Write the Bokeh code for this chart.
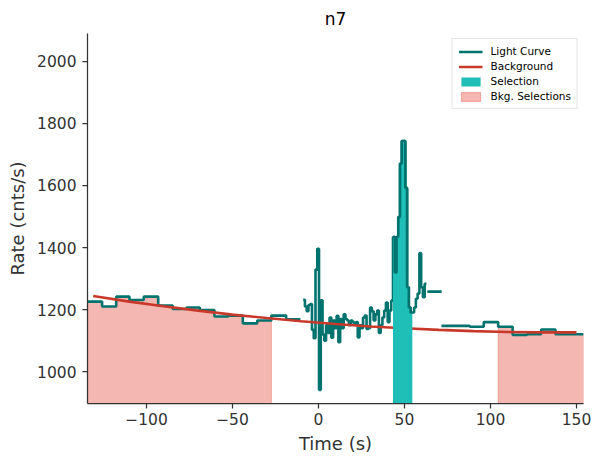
import numpy as np
from bokeh.plotting import figure
from bokeh.models import Range1d, Legend, LegendItem, FixedTicker
from bokeh.embed import file_html
from bokeh.resources import INLINE

# ---------------- data ----------------
title_text = "n7"
x_label = "Time (s)"
y_label = "Rate (cnts/s)"

# coarse bins before the trigger
left_edges = [-134.2, -125.8, -117.6, -109.9, -101.6, -93.2, -84.7, -76.7, -69.0,
              -60.5, -52.5, -44.0, -35.6, -27.4, -18.8, -10.5]
left_rates = [1226, 1210, 1242, 1231, 1242, 1213, 1202, 1207, 1199, 1178, 1181,
              1156, 1165, 1181, 1169]

# fine bins around the burst
fine_start = -8.9
fine_width = 1.024
fine_rates = [1232, 1210, 1195, 1215, 1218, 1135, 1108, 1329, 1396, 942,
              1230, 1120, 1100, 1150, 1125, 1175, 1110, 1165, 1140, 1180,
              1095, 1170, 1140, 1185, 1170, 1165, 1150, 1165, 1160, 1155,
              1160, 1111, 1150, 1140, 1175, 1181, 1138, 1140, 1207, 1195,
              1165, 1185, 1197, 1125, 1150, 1175, 1197, 1223, 1160, 1197,
              1229, 1434, 1320, 1434, 1498, 1670, 1743, 1743, 1592, 1272,
              1207, 1191, 1191, 1207, 1235, 1252, 1382, 1272, 1240, 1283]

# single isolated bin after the burst
iso_edges = [63.3, 71.6]
iso_rates = [1258]

# coarse bins after the burst
right_edges = [71.5, 79.7, 88.0, 96.1, 104.5, 112.9, 121.3, 129.5, 137.8, 145.9, 154.1]
right_rates = [1148, 1148, 1145, 1160, 1145, 1119, 1121, 1136, 1121, 1121]

# background model
bkg_times = [-131, -110, -90, -70, -50, -30, -10, 10, 30, 50, 70, 90, 110, 130, 150]
bkg_rates = [1244, 1226, 1211, 1197, 1184, 1173, 1163, 1154, 1146, 1140, 1135, 1131,
             1128, 1127, 1127]

# intervals
selection = [43.3, 54.6]
bkg_selections = [[-134.2, -27.4], [104.5, 154.1]]

x_ticks = [-100, -50, 0, 50, 100, 150]
y_ticks = [1000, 1200, 1400, 1600, 1800, 2000]
x_lim = (-134.3, 154.1)
y_lim = (898, 2089)

# ---------------- styles ----------------
LC_COLOR = "#00736e"
BKG_COLOR = "#c9392b"
SEL_COLOR = "#1fbfb8"
BSEL_COLOR = "#e74c3c"
AX_COLOR = "#333333"
FONT = "DejaVu Sans"

fine_edges = list(np.round(fine_start + fine_width * np.arange(len(fine_rates) + 1), 3))

segments = [(left_edges, left_rates), (fine_edges, fine_rates),
            (iso_edges, iso_rates), (right_edges, right_rates)]

all_edges = []
all_rates = []
for e, r in segments:
    for i in range(len(r)):
        all_edges.append((e[i], e[i + 1]))
        all_rates.append(r[i])


def fill_polygon(lo, hi, base=0.0):
    xs, ys = [], []
    eps = 0.05
    chosen = [(a, b, v) for (a, b), v in zip(all_edges, all_rates)
              if a >= lo - eps and b <= hi + eps]
    chosen.sort()
    xs.append(chosen[0][0]); ys.append(base)
    for a, b, v in chosen:
        xs += [a, b]
        ys += [v, v]
    xs.append(chosen[-1][1]); ys.append(base)
    return xs, ys


p = figure(width=602, height=465, output_backend="svg", toolbar_location=None,
           x_range=Range1d(*x_lim), y_range=Range1d(*y_lim),
           min_border_left=87, min_border_right=19, min_border_top=33,
           min_border_bottom=62)
p.outline_line_color = None
p.grid.visible = False
p.background_fill_color = "white"
p.border_fill_color = "white"

# title
p.title.text = title_text
p.title.align = "center"
p.title.text_font = FONT
p.title.text_font_size = "17px"
p.title.text_font_style = "normal"
p.title.text_color = "black"
p.title.standoff = 10

# background selections
bsel_renderers = []
for lo, hi in bkg_selections:
    xs, ys = fill_polygon(lo, hi)
    r = p.patch(xs, ys, fill_color=BSEL_COLOR, fill_alpha=0.4,
                line_color=BSEL_COLOR, line_alpha=0.4, line_width=1)
    bsel_renderers.append(r)

# light curve
lc_renderers = []
for e, r in segments:
    xs = list(e)
    ys = list(r) + [r[-1]]
    lc = p.step(xs, ys, mode="after", line_color=LC_COLOR, line_width=2.6)
    lc_renderers.append(lc)

# background model
bkg_r = p.line(bkg_times, bkg_rates, line_color=BKG_COLOR, line_width=2.6)

# selection
sx, sy = fill_polygon(selection[0], selection[1])
sel_r = p.patch(sx, sy, fill_color=SEL_COLOR, fill_alpha=1.0, line_alpha=0.0)

# light curve again on top within the selection region
sel_edges = [e for e in fine_edges if selection[0] - 0.05 <= e <= selection[1] + 0.05]
sel_vals = [v for (a, b), v in zip(all_edges, all_rates)
            if a >= selection[0] - 0.05 and b <= selection[1] + 0.05]
p.step(sel_edges, sel_vals + [sel_vals[-1]], mode="after", line_color=LC_COLOR,
       line_width=2.6)

# axes
for ax in (p.xaxis[0], p.yaxis[0]):
    ax.axis_line_color = AX_COLOR
    ax.axis_line_width = 1.25
    ax.major_tick_line_color = AX_COLOR
    ax.major_tick_line_width = 1.25
    ax.major_tick_out = 5
    ax.major_tick_in = 0
    ax.minor_tick_line_color = None
    ax.major_label_text_font = FONT
    ax.major_label_text_font_size = "15.5px"
    ax.major_label_text_color = AX_COLOR
    ax.axis_label_text_font = FONT
    ax.axis_label_text_font_size = "18px"
    ax.axis_label_text_font_style = "normal"
    ax.axis_label_text_color = AX_COLOR

p.xaxis.ticker = FixedTicker(ticks=x_ticks)
p.yaxis.ticker = FixedTicker(ticks=y_ticks)
p.xaxis.major_label_overrides = {t: (str(t).replace("-", "\u2212")) for t in x_ticks}
p.xaxis.axis_label = x_label
p.yaxis.axis_label = y_label
p.xaxis.major_label_standoff = 4
p.yaxis.major_label_standoff = 6
p.xaxis.axis_label_standoff = 5
p.yaxis.axis_label_standoff = 6

legend = Legend(items=[
    LegendItem(label="Light Curve", renderers=[lc_renderers[0]]),
    LegendItem(label="Background", renderers=[bkg_r]),
    LegendItem(label="Selection", renderers=[sel_r]),
    LegendItem(label="Bkg. Selections", renderers=[bsel_renderers[0]]),
], location="top_right")
legend.margin = 5
legend.padding = 6
legend.spacing = 3
legend.glyph_width = 24
legend.glyph_height = 11
legend.label_height = 11
legend.label_standoff = 8
legend.label_text_font = FONT
legend.label_text_font_size = "10.5px"
legend.label_text_color = "black"
legend.border_line_color = "#cccccc"
legend.border_line_width = 1
legend.background_fill_alpha = 0.8
p.add_layout(legend)

open("out.html", "w").write(file_html(p, INLINE))
